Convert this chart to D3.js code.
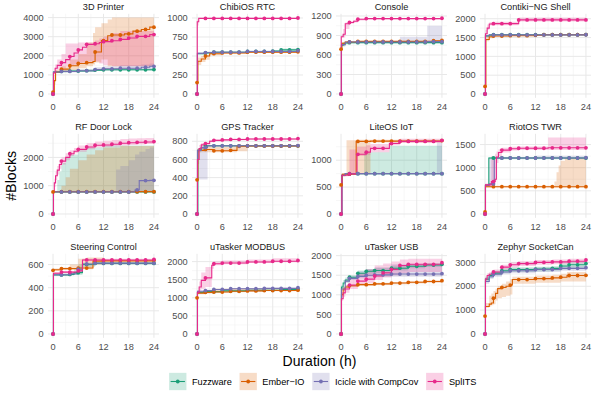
<!DOCTYPE html>
<html>
<head>
<meta charset="utf-8">
<script src="https://cdn.jsdelivr.net/npm/d3@7"></script>
<style>
  body { margin: 0; background: #fff; }
  svg { display: block; font-family: "Liberation Sans", Arial, sans-serif; }
</style>
</head>
<body>
<svg width="598" height="394"></svg>
<script>
// series order: Fuzzware, Ember-IO, Icicle with CompCov, SplITS
const seriesNames = ["Fuzzware", "Ember\u2212IO", "Icicle with CompCov", "SplITS"];
const seriesColors = ["#1B9E77", "#D95F02", "#7570B3", "#E7298A"];

const panelNames = ["3D Printer", "ChibiOS RTC", "Console", "Contiki\u2212NG Shell",
                    "RF Door Lock", "GPS Tracker", "LiteOS IoT", "RiotOS TWR",
                    "Steering Control", "uTasker MODBUS", "uTasker USB", "Zephyr SocketCan"];

const xTicks = [0, 6, 12, 18, 24];
const markerHours = [0, 2, 4, 6, 8, 10, 12, 14, 16, 18, 20, 22, 24];

const yTicks = [
  [0, 1000, 2000, 3000, 4000], [0, 250, 500, 750, 1000], [0, 300, 600, 900, 1200], [0, 500, 1000, 1500, 2000],
  [0, 1000, 2000], [0, 200, 400, 600, 800], [0, 500, 1000], [0, 500, 1000, 1500],
  [0, 200, 400, 600], [0, 500, 1000, 1500, 2000], [0, 500, 1000, 1500, 2000], [0, 1000, 2000, 3000]
];

// step points: [hour, median, low, high]
const dPrinter = [
  [[0,0],[0.1,1150,1100,1200],[2,1180,1130,1250],[4,1200,1150,1270],[8,1220,1170,1300],[10,1250,1200,1320],[12,1270,1220,1340],[24,1280,1220,1350]],
  [[0,100,0,150],[0.3,700,500,1000],[0.6,1150,1100,1250],[2,1300,1200,1450],[4,1480,1250,1800],[6,1600,1350,2100],[8,1640,1450,2700],[9.5,1700,1550,3200],[10,2200,1650,3500],[11.5,2800,1800,3700],[13,3050,1450,3900],[14,3090,1450,4000],[17,3150,1450,4000],[19,3290,1450,4000],[21,3380,1450,4000],[23,3500,1450,4000]],
  [[0,0],[0.1,1150,1100,1200],[2,1180,1130,1250],[6,1220,1170,1300],[10,1280,1200,1400],[12,1320,1230,1450],[16,1350,1250,1500],[21,1400,1250,1550],[23,1450,1250,1600]],
  [[0,0],[0.1,1100,1050,1150],[0.5,1350,1200,1550],[1,1500,1250,1800],[2,1640,1350,2100],[3,1800,1450,2650],[4,1960,1500,2650],[5,2150,1550,2650],[6,2310,1600,2700],[7,2450,1650,2700],[8,2600,1700,2700],[10,2630,1700,2800],[11,2700,1600,2900],[12,2740,1500,3000],[14,2790,1450,3200],[16,2860,1450,3300],[18,2930,1450,3300],[20,3020,1450,3300],[23,3110,1450,3300]]
];
const dChibi = [
  [[0,0],[0.1,530,520,545],[2,540,530,555],[4,550,540,560],[12,560,550,570],[18,565,550,580],[20,580,560,600],[24,585,560,600]],
  [[0,150,140,160],[0.2,430,380,480],[1,460,420,500],[2,500,450,520],[3,530,510,545],[6,540,530,550],[12,550,540,560],[24,556,545,565]],
  [[0,0],[0.1,535,525,545],[2,545,535,555],[4,550,540,560],[12,560,550,570],[24,570,560,580]],
  [[0,0],[0.05,950,900,980],[0.4,995,990,1000],[24,1000,995,1005]]
];
const dConsole = [
  [[0,0],[0.1,750,720,780],[0.5,770,730,800],[1,785,760,800],[2,790,780,800],[24,790,780,800]],
  [[0,690,680,700],[0.2,780,760,800],[1,800,790,810],[4,810,800,815],[22,820,810,830],[24,825,815,835]],
  [[0,0],[0.1,760,740,780],[1,795,780,810],[2,800,790,810],[14,800,790,880],[20.5,805,790,1050],[24,805,790,1050]],
  [[0,0],[0.05,880,870,900],[0.5,920,870,1000],[1,1080,1000,1100],[2,1100,1080,1120],[3,1120,1100,1140],[4,1150,1130,1160],[6,1160,1150,1170],[24,1165,1155,1175]]
];
const dContiki = [
  [[0,0],[0.1,1540,1520,1560],[1,1565,1550,1580],[2,1575,1560,1590],[24,1580,1570,1595]],
  [[0,200,180,220],[0.2,1450,1400,1550],[1,1520,1480,1560],[2,1540,1520,1560],[6,1550,1540,1565],[12,1560,1550,1575],[14,1575,1560,1590],[24,1580,1570,1595]],
  [[0,0],[0.1,1550,1530,1570],[1,1570,1555,1585],[24,1575,1560,1590]],
  [[0,0],[0.1,1600,1550,1700],[0.5,1750,1700,1850],[1,1860,1820,1910],[2,1870,1830,1920],[8,1970,1930,2030],[24,1970,1930,2030]]
];
const dRfDoor = [
  [[0,0],[0.1,780,780,780],[0.5,780,780,800],[1,780,780,1200],[1.5,780,780,1500],[2,780,780,1800],[3,780,780,2000],[4,780,780,2100],[6,780,780,2250],[8,780,780,2350],[12,780,780,2420],[24,780,780,2520]],
  [[0,780,770,790],[0.1,790,780,800],[2,790,780,1000],[3,790,780,1300],[4,790,780,1600],[6,790,780,1900],[8,790,780,2100],[10,790,780,2250],[12,790,780,2350],[16,790,780,2400],[24,790,780,2480]],
  [[0,0],[0.1,780],[15,780,780,1570],[16,780,780,1700],[18,780,780,1900],[19.5,850,780,2100],[20.5,1180,780,2200],[22,1180,780,2300],[23,1190,780,2350]],
  [[0,0],[0.1,800,780,850],[0.3,1100,950,1250],[0.6,1350,1200,1500],[1,1550,1400,1700],[1.5,1750,1600,1900],[2,1870,1750,2000],[3,2000,1900,2150],[4,2130,2050,2250],[5,2220,2150,2330],[6,2285,2200,2420],[8,2370,2290,2500],[10,2430,2350,2560],[12,2440,2370,2590],[14,2465,2390,2620],[16,2500,2420,2650],[18,2520,2440,2670],[20,2535,2460,2680],[22,2545,2470,2690],[24,2560,2480,2700]]
];
const dGps = [
  [[0,0],[0.2,700,680,720],[1,730,710,745],[2,750,740,760],[24,750,740,760]],
  [[0,376,360,390],[0.2,700,680,720],[2,710,680,740],[4,695,680,740],[8,700,680,750],[9.5,745,690,755],[12,748,740,755],[24,750,740,760]],
  [[0,0],[0.1,700,380,720],[1,730,380,740],[2.5,750,740,760],[24,752,745,760]],
  [[0,0],[0.1,600,550,700],[0.5,720,700,760],[1,760,740,780],[2,775,760,790],[3,800,790,815],[4,810,800,820],[6,815,805,825],[8,820,810,830],[12,825,815,835],[24,830,820,840]]
];
const dLiteOs = [
  [[0,0],[0.2,720,700,740],[1,750,740,760],[5.5,750,740,1150],[11.5,750,740,1270],[24,750,740,1270]],
  [[0,540,520,560],[0.3,740,700,760],[1.3,740,740,1370],[3.6,1350,740,1380],[7,1355,1330,1380],[24,1365,1340,1385]],
  [[0,0],[0.2,720,700,740],[1,750,740,760],[22.8,750,740,1330],[24,750,740,1330]],
  [[0,0],[0.2,720,700,740],[2,745,740,1200],[3.8,1110,1080,1250],[6,1150,1100,1280],[7,1220,1150,1300],[11.5,1310,1280,1360],[14,1350,1320,1400],[24,1370,1340,1420]]
];
const dRiot = [
  [[0,0],[0.1,620,600,640],[0.9,1210,1180,1230],[24,1210,1190,1230]],
  [[0,45,30,60],[0.1,590,570,610],[16.5,590,570,700],[17,590,570,900],[17.5,590,570,1050],[18,590,570,1150],[19,590,570,1210],[24,590,570,1210]],
  [[0,0],[0.1,620,600,640],[1,650,620,1210],[2.2,1210,1190,1230],[12,1210,1190,1260],[24,1215,1190,1260]],
  [[0,0],[0.1,630,600,660],[1.5,700,650,1250],[2.4,750,700,1300],[2.7,1230,1100,1350],[3.2,1330,1250,1400],[4,1380,1330,1430],[6,1410,1370,1450],[8,1420,1380,1460],[15,1430,1380,1650],[24,1430,1380,1650]]
];
const dSteering = [
  [[0,0],[0.1,510,505,520],[4,515,505,525],[5,530,510,560],[6,530,510,600],[7,600,580,610],[10,610,600,615],[24,610,605,615]],
  [[0,550,545,555],[0.1,555,545,565],[2,565,555,575],[4,565,560,600],[6,570,560,650],[8,570,560,660],[9.5,630,600,660],[12,632,620,640],[24,635,625,645]],
  [[0,0],[0.1,512,505,520],[4,520,510,530],[6,560,540,580],[7,605,595,615],[10,612,605,620],[24,612,605,620]],
  [[0,0],[0.1,525,515,535],[2,535,525,545],[6,545,535,560],[7,640,630,650],[24,645,638,652]]
];
const dModbus = [
  [[0,0],[0.1,1150,1120,1180],[2,1170,1150,1190],[6,1190,1170,1210],[12,1210,1190,1230],[20,1230,1210,1250],[24,1240,1220,1260]],
  [[0,1000,980,1020],[0.1,1130,1100,1160],[2,1150,1120,1180],[4,1160,1140,1250],[8,1180,1150,1260],[12,1190,1160,1260],[16,1200,1180,1240],[24,1210,1190,1230]],
  [[0,0],[0.1,1180,1150,1200],[2,1200,1180,1220],[4,1230,1210,1250],[8,1250,1230,1270],[16,1260,1240,1280],[24,1280,1260,1300]],
  [[0,0],[0.1,1150,1100,1200],[0.5,1300,1200,1450],[1,1480,1250,1700],[2,1550,1300,1850],[3.5,1900,1800,1960],[4,1940,1900,2000],[6,1960,1930,2030],[12,1990,1960,2060],[18,2010,1980,2090],[24,2030,2000,2110]]
];
const dUsb = [
  [[0,0],[0.1,1200,1150,1250],[0.5,1300,1250,1380],[1,1380,1320,1440],[2,1450,1400,1500],[4,1550,1480,1620],[6,1600,1540,1660],[8,1620,1560,1690],[12,1680,1620,1740],[16,1730,1680,1790],[20,1760,1710,1810],[24,1780,1730,1830]],
  [[0,0],[0.1,1000,950,1050],[0.5,1150,1100,1200],[1,1200,1160,1240],[2,1230,1200,1260],[4,1260,1230,1290],[8,1280,1250,1310],[12,1300,1270,1330],[16,1320,1290,1350],[20,1340,1310,1370],[24,1360,1330,1390]],
  [[0,0],[0.1,1150,1100,1200],[1,1350,1300,1400],[2,1420,1380,1480],[4,1470,1420,1600],[6,1500,1440,1650],[8,1510,1450,1700],[12,1530,1460,1780],[24,1540,1470,1850]],
  [[0,0],[0.1,900,850,1000],[0.5,1050,950,1150],[1,1150,1050,1250],[2,1250,1150,1400],[4,1350,1250,1550],[6,1400,1300,1650],[8,1480,1380,1750],[10,1560,1450,1800],[12,1650,1500,1850],[14,1750,1550,1900],[16,1780,1580,1920],[24,1820,1600,1950]]
];
const dZephyr = [
  [[0,0],[0.1,2300,2200,2400],[1,2450,2350,2550],[2,2550,2450,2650],[4,2650,2550,2750],[6,2700,2600,2800],[12,2720,2620,2820],[16,2750,2650,2850],[18,2850,2700,2950],[20,2900,2750,3000],[24,2950,2800,3050]],
  [[0,750,700,800],[0.1,1150,1100,1300],[1,1250,1150,1600],[1.5,1300,1200,1700],[2,1500,1250,1800],[2.5,1700,1400,1900],[3,1900,1500,2000],[4,1950,1550,2100],[5,2000,1600,2200],[6,2050,1650,2300],[6.5,2280,2100,2400],[12,2320,2150,2450],[16,2350,2150,2480],[18,2380,2200,2520],[19.5,2450,2200,2600],[24,2460,2200,2600]],
  [[0,0],[0.1,2200,2100,2300],[1,2400,2300,2500],[2,2500,2400,2600],[4,2600,2500,2700],[6,2650,2550,2750],[12,2700,2600,2800],[18,2750,2650,2850],[24,2780,2700,2880]],
  [[0,0],[0.1,2300,2200,2400],[0.5,2450,2350,2550],[1,2500,2400,2600],[2,2600,2500,2700],[4,2800,2700,2900],[6,2900,2800,3000],[8,2950,2850,3050],[12,3000,2900,3100],[16,3020,2920,3120],[20,3050,2950,3150],[24,3100,3000,3200]]
];

const panelData = [dPrinter, dChibi, dConsole, dContiki, dRfDoor, dGps, dLiteOs, dRiot,
                   dSteering, dModbus, dUsb, dZephyr];

// ---------- layout ----------
const svg = d3.select("svg");
const panelW = 111, panelH = 84, marginL = 48, marginT = 13.8, gapX = 33, gapY = 36;
const textCol = "#4D4D4D", smallFont = 9.2;

const x = d3.scaleLinear().domain([-1.2, 25.2]).range([0, panelW]);

function toRows(pts) {
  const rows = pts.map(p => ({t: p[0], m: p[1], lo: p.length > 2 ? p[2] : p[1], hi: p.length > 2 ? p[3] : p[1]}));
  const last = rows[rows.length - 1];
  if (last.t < 24) rows.push({...last, t: 24});
  return rows;
}
function valueAt(rows, h) {
  let v = rows[0].m;
  rows.forEach(r => { if (r.t <= h) v = r.m; });
  return v;
}

panelData.forEach((raw, i) => {
  const col = i % 4, row = Math.floor(i / 4);
  const g = svg.append("g")
    .attr("transform", `translate(${marginL + col * (panelW + gapX)},${marginT + row * (panelH + gapY)})`);
  const series = raw.map(toRows);
  const maxV = d3.max(series, s => d3.max(s, d => Math.max(d.hi, d.m)));
  const y = d3.scaleLinear().domain([-0.05 * maxV, 1.05 * maxV]).range([panelH, 0]);
  const ticks = yTicks[i];
  const step = ticks[1] - ticks[0];

  // minor grid
  const yMinor = ticks.map(t => t + step / 2).filter(v => v < y.domain()[1]);
  const xMinor = [3, 9, 15, 21];
  g.selectAll(".ymin").data(yMinor).enter().append("line")
    .attr("x1", 0).attr("x2", panelW).attr("y1", d => y(d)).attr("y2", d => y(d))
    .attr("stroke", "#F2F2F2").attr("stroke-width", 0.6);
  g.selectAll(".xmin").data(xMinor).enter().append("line")
    .attr("y1", 0).attr("y2", panelH).attr("x1", d => x(d)).attr("x2", d => x(d))
    .attr("stroke", "#F2F2F2").attr("stroke-width", 0.6);
  // major grid
  g.selectAll(".ymaj").data(ticks).enter().append("line")
    .attr("x1", 0).attr("x2", panelW).attr("y1", d => y(d)).attr("y2", d => y(d))
    .attr("stroke", "#E8E8E8").attr("stroke-width", 1);
  g.selectAll(".xmaj").data(xTicks).enter().append("line")
    .attr("y1", 0).attr("y2", panelH).attr("x1", d => x(d)).attr("x2", d => x(d))
    .attr("stroke", "#E8E8E8").attr("stroke-width", 1);

  // tick labels
  g.selectAll(".ylab").data(ticks).enter().append("text")
    .attr("x", -4.4).attr("y", d => y(d)).attr("dy", "0.35em")
    .attr("text-anchor", "end").attr("font-size", smallFont).attr("fill", textCol)
    .text(d => String(d));
  g.selectAll(".xlab").data(xTicks).enter().append("text")
    .attr("x", d => x(d)).attr("y", panelH + 12.4)
    .attr("text-anchor", "middle").attr("font-size", smallFont).attr("fill", textCol)
    .text(d => d);

  // strip title
  g.append("text").attr("x", panelW / 2).attr("y", -4.3)
    .attr("text-anchor", "middle").attr("font-size", smallFont).attr("fill", "#1A1A1A")
    .text(panelNames[i]);

  const area = d3.area().curve(d3.curveStepAfter)
    .x(d => x(d.t)).y0(d => y(d.lo)).y1(d => y(d.hi));
  const line = d3.line().curve(d3.curveStepAfter)
    .x(d => x(d.t)).y(d => y(d.m));

  series.forEach((s, k) => {
    g.append("path").attr("d", area(s)).attr("fill", seriesColors[k]).attr("fill-opacity", 0.22);
  });
  series.forEach((s, k) => {
    g.append("path").attr("d", line(s)).attr("fill", "none")
      .attr("stroke", seriesColors[k]).attr("stroke-width", 1.1);
  });
  series.forEach((s, k) => {
    g.selectAll(null).data(markerHours).enter().append("circle")
      .attr("cx", h => x(h)).attr("cy", h => y(valueAt(s, h)))
      .attr("r", 1.9).attr("fill", seriesColors[k]);
  });
});

// axis titles
const plotL = marginL, plotR = marginL + 4 * panelW + 3 * gapX;
const plotT = marginT, plotB = marginT + 3 * panelH + 2 * gapY;
svg.append("text").attr("x", (plotL + plotR) / 2).attr("y", 365.5)
  .attr("text-anchor", "middle").attr("font-size", 14).attr("fill", "#000")
  .text("Duration (h)");
svg.append("text")
  .attr("transform", `translate(15.5,${(plotT + plotB) / 2}) rotate(-90)`)
  .attr("text-anchor", "middle").attr("font-size", 14.3).attr("fill", "#000")
  .text("#Blocks");

// legend
const legend = svg.append("g");
const keySize = 17.3, keyGap = 5.5, itemGap = 7.8, legendY = 381.5;
let cursor = 0;
seriesNames.forEach((name, k) => {
  const it = legend.append("g");
  it.append("rect").attr("x", 0).attr("y", legendY - keySize / 2)
    .attr("width", keySize).attr("height", keySize)
    .attr("fill", seriesColors[k]).attr("fill-opacity", 0.22);
  it.append("line").attr("x1", 1.5).attr("x2", keySize - 1.5)
    .attr("y1", legendY).attr("y2", legendY)
    .attr("stroke", seriesColors[k]).attr("stroke-width", 1.1);
  it.append("circle").attr("cx", keySize / 2).attr("cy", legendY).attr("r", 1.9)
    .attr("fill", seriesColors[k]);
  const txt = it.append("text").attr("x", keySize + keyGap).attr("y", legendY).attr("dy", "0.35em")
    .attr("font-size", smallFont).attr("fill", "#000").text(name);
  const w = txt.node().getComputedTextLength();
  it.attr("transform", `translate(${cursor},0)`);
  cursor += keySize + keyGap + w + itemGap;
});
const totalW = cursor - itemGap;
legend.attr("transform", `translate(${(plotL + plotR) / 2 + 3.3 - totalW / 2},0)`);
</script>
</body>
</html>
